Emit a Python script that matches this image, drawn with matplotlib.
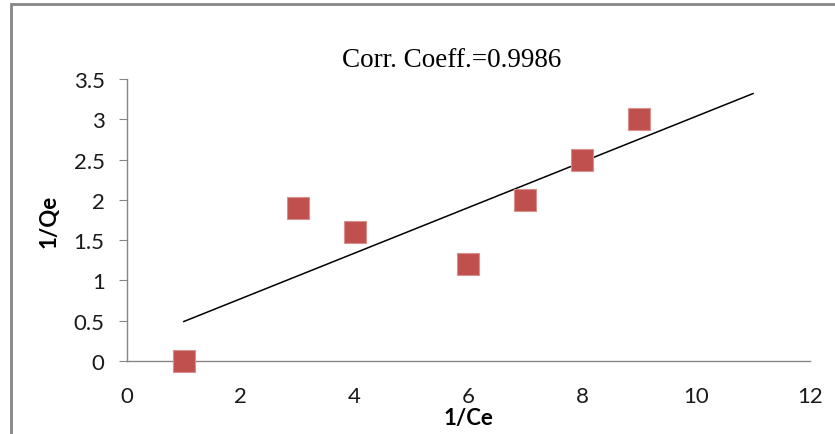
import numpy as np
import matplotlib.pyplot as plt
from matplotlib.patches import Rectangle

# 1/Ce vs 1/Qe (Langmuir linearisation)
inv_ce = [1, 3, 4, 6, 7, 8, 9]
inv_qe = [0, 1.9, 1.6, 1.2, 2.0, 2.5, 3.0]
trend_range = [1, 11]          # excel trendline, forward-extended to 11
corr_text = "Corr. Coeff.=0.9986"

x_ticks = [0, 2, 4, 6, 8, 10, 12]
y_ticks = [0, 0.5, 1, 1.5, 2, 2.5, 3, 3.5]
y_ticklabels = ["0", "0.5", "1", "1.5", "2", "2.5", "3", "3.5"]

GRAY = "#868686"
plt.rcParams["font.family"] = ["Lato", "DejaVu Sans"]

fig = plt.figure(figsize=(8.35, 4.35), dpi=100)
ax = fig.add_axes([0.152, 0.168, 0.818, 0.648])

# linear least-squares trendline
slope, icpt = np.polyfit(inv_ce, inv_qe, 1)
tx = np.array(trend_range, dtype=float)
ax.plot(tx, slope * tx + icpt, color="black", lw=1.1, zorder=2)

ax.plot(inv_ce, inv_qe, ls="none", marker="s", ms=15.5,
        mfc="#C0504D", mec="#D98F8D", mew=0.8, zorder=3, clip_on=False)

ax.set_xlim(0, 12)
ax.set_ylim(0, 3.5)
ax.set_xticks(x_ticks)
ax.set_yticks(y_ticks)
ax.set_yticklabels(y_ticklabels)

for s in ("top", "right"):
    ax.spines[s].set_visible(False)
for s in ("left", "bottom"):
    ax.spines[s].set_color(GRAY)
    ax.spines[s].set_linewidth(1.0)
ax.tick_params(axis="y", direction="out", length=6, color=GRAY,
               labelsize=16, labelcolor="#1a1a1a", pad=10)
ax.tick_params(axis="x", length=0, labelsize=16, labelcolor="#1a1a1a", pad=18)

ax.set_xlabel("1/Ce", fontsize=16, fontweight="bold")
ax.set_ylabel("1/Qe", fontsize=16, fontweight="bold")
ax.xaxis.set_label_coords(0.5, -0.165)
ax.yaxis.set_label_coords(-0.098, 0.5)

fig.text(0.541, 0.860, corr_text, ha="center", va="center",
         family=["Liberation Serif", "DejaVu Serif"], fontsize=19.5)

# chart-area frame (cropped at right/bottom in the original)
fig.add_artist(Rectangle((0.013, -0.2), 1.2, 1.2 - 0.012, transform=fig.transFigure,
                         fill=False, ec=GRAY, lw=2))

fig.savefig("out.png", dpi=100)
